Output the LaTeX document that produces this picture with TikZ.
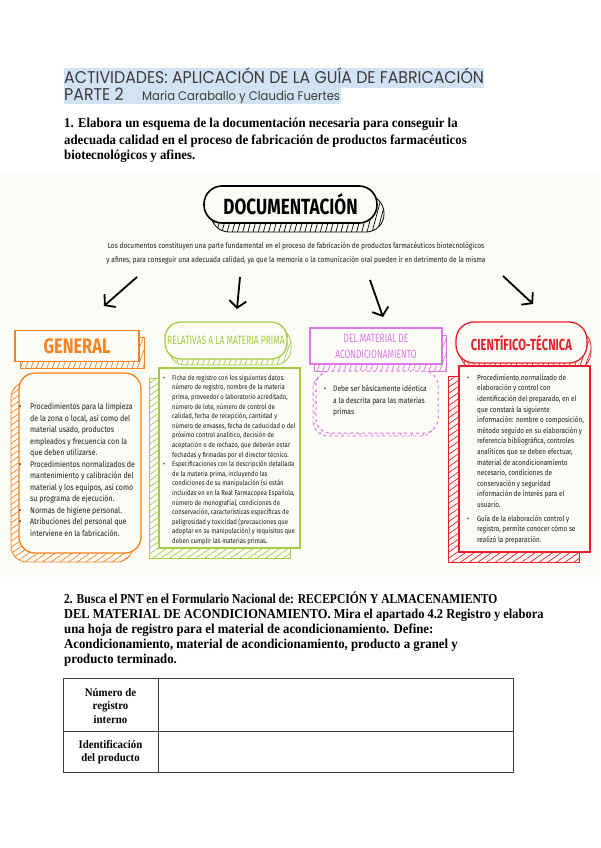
\documentclass[tikz,border=0pt]{standalone}
\usepackage{fontspec}
\usepackage{graphicx}
\setmainfont{Liberation Serif}
\newfontfamily\titlefont[FakeStretch=0.93]{Poppins}
\newfontfamily\qfont[FakeStretch=0.94]{Liberation Serif}
\newfontfamily\hdA[FakeStretch=0.78]{Fira Sans}
\newfontfamily\hdB[FakeStretch=0.70]{Fira Sans}
\newfontfamily\bodyfont[FakeStretch=0.85]{Fira Sans}
\usetikzlibrary{arrows.meta,patterns.meta,shadows}
\definecolor{hl}{HTML}{D3E3F3}
\definecolor{titlegray}{HTML}{3C3C3C}
\definecolor{bandbg}{HTML}{FCFBF6}
\definecolor{cOr}{HTML}{F7821E}
\definecolor{cGr}{HTML}{A3CC45}
\definecolor{cMg}{HTML}{DD77E8}
\definecolor{cRd}{HTML}{E81E2A}
\definecolor{ink}{HTML}{1C1C1C}
\newcommand{\bul}[1][11pt]{\makebox[#1][l]{\textbullet}}
\tikzset{
  hatched/.style n args={4}{general shadow={shadow xshift=#2, shadow yshift=#3, draw=#1, line width=0.8pt,
      pattern={Lines[angle=#4,distance=5pt,line width=0.7pt]}, pattern color=#1}},
  skbox/.style={draw=#1, line width=1.3pt, fill=bandbg, inner sep=0pt},
  hdtext/.style={text=#1, align=center, inner sep=0pt},
  bodytext/.style={anchor=north west, inner sep=0pt, text=ink},
  qline/.style={anchor=base west, inner sep=0pt, font=\qfont\bfseries\fontsize{13.6}{15}\selectfont, text=black},
  arr/.style={line width=1.8pt, -{Straight Barb[length=7pt,width=17pt]}},
}
\begin{document}
\begin{tikzpicture}[x=1pt,y=-1pt]
\useasboundingbox (0,0) rectangle (600,848);
\fill[white] (0,0) rectangle (600,848);
% title
\fill[hl] (64,68) rectangle (484,88);
\fill[hl] (64,88) rectangle (341,104);
\node[anchor=base west, inner sep=0, text=titlegray, font=\titlefont\fontsize{17}{17}\selectfont] (t1) at (64,84)
  {ACTIVIDADES: APLICACIÓN DE LA GUÍA DE FABRICACIÓN};
\node[anchor=base west, inner sep=0, text=titlegray, font=\titlefont\fontsize{17}{17}\selectfont] (t2) at (64,101)
  {PARTE 2};
\node[anchor=base west, inner sep=0, text=titlegray, font=\titlefont\fontsize{12.5}{12.5}\selectfont] (t3) at (142,101)
  {Maria Caraballo y Claudia Fuertes};
% question 1
\node[qline] (q1a) at (64,128) {1. Elabora un esquema de la documentación necesaria para conseguir la};
\node[qline] (q1b) at (64,144) {adecuada calidad en el proceso de fabricación de productos farmacéuticos};
\node[qline] (q1c) at (64,159) {biotecnológicos y afines.};
% band
\fill[bandbg] (0,174) rectangle (600,577);
% documentacion
\node[skbox=black, line width=1.6pt, rounded corners=18pt, minimum width=173pt, minimum height=37pt,
      hatched={black}{7pt}{-9pt}{75}] (doc) at (290.5,204.5) {};
\node[text=black, font=\hdA\bfseries\fontsize{22}{22}\selectfont] at (doc.center) {DOCUMENTACIÓN};
\node[text=ink, align=center, inner sep=0, font=\bodyfont\fontsize{7.75}{14}\selectfont] (par) at (296,253)
  {Los documentos constituyen una parte fundamental en el proceso de fabricación de productos farmacéuticos biotecnológicos\\
   y afines, para conseguir una adecuada calidad, ya que la memoria o la comunicación oral pueden ir en detrimento de la misma};
% headers
\node[skbox=cOr, minimum width=124pt, minimum height=31pt, hatched={cOr}{5pt}{-7pt}{70}] (gen) at (77,346) {};
\node[hdtext=cOr, font=\hdA\bfseries\fontsize{21}{21}\selectfont] at (gen.center) {GENERAL};
\node[skbox=cGr, rounded corners=16pt, minimum width=122pt, minimum height=37pt, hatched={cGr}{4pt}{-6pt}{70}] (rel) at (226,340.5) {};
\node[hdtext=cGr, font=\hdB\fontsize{12}{12}\selectfont] at (rel.center) {RELATIVAS A LA MATERIA PRIMA};
\node[skbox=cMg, minimum width=132pt, minimum height=36pt, hatched={cMg}{4pt}{-7pt}{70}] (acm) at (376,346) {};
\node[hdtext=cMg, font=\hdB\fontsize{12}{16}\selectfont] at (acm.center) {DEL MATERIAL DE\\ACONDICIONAMIENTO};
\node[skbox=cRd, rounded corners=18pt, minimum width=131pt, minimum height=41pt, hatched={cRd}{4pt}{-7pt}{70}] (cyt) at (521.5,342.5) {};
\node[hdtext=cRd, font=\hdB\bfseries\fontsize{16}{16}\selectfont] at (cyt.center) {CIENTÍFICO-TÉCNICA};
% arrows
\coordinate (a1s) at (137,277); \coordinate (a1e) at (104,306);
\coordinate (a2s) at (240,277); \coordinate (a2e) at (237,309);
\coordinate (a3s) at (370,280); \coordinate (a3e) at (383,317);
\coordinate (a4s) at (503,276); \coordinate (a4e) at (533,304);
\draw[arr] (a1s) -- (a1e);
\draw[arr] (a2s) -- (a2e);
\draw[arr] (a3s) -- (a3e);
\draw[arr] (a4s) -- (a4e);
% content boxes
\node[skbox=cOr, rounded corners=16pt, minimum width=122pt, minimum height=180pt, hatched={cOr}{-8pt}{-9pt}{35}] (bgen) at (80,463) {};
\node[skbox=cGr, minimum width=141pt, minimum height=180pt, hatched={cGr}{-10pt}{-10pt}{35}] (brel) at (229.5,458) {};
\node[skbox=cMg, line width=1pt, dashed, rounded corners=14pt, minimum width=122pt, minimum height=62pt, hatched={cMg}{-3pt}{-3pt}{60}] (bacm) at (377,402) {};
\node[skbox=cRd, minimum width=131pt, minimum height=186pt, hatched={cRd}{-11pt}{-10pt}{35}] (bcyt) at (524.5,459) {};
% texts
\node[bodytext, font=\bodyfont\fontsize{8.3}{11.5}\selectfont] (tgen) at (19,401.5) {%
\begin{tabular}{@{}l@{}l@{}}
\bul & Procedimientos para la limpieza\\
 & de la zona o local, así como del\\
 & material usado, productos\\
 & empleados y frecuencia con la\\
 & que deben utilizarse.\\
\bul & Procedimientos normalizados de\\
 & mantenimiento y calibración del\\
 & material y los equipos, así como\\
 & su programa de ejecución.\\
\bul & Normas de higiene personal.\\
\bul & Atribuciones del personal que\\
 & interviene en la fabricación.
\end{tabular}};
\node[bodytext, font=\bodyfont\fontsize{7.0}{9.6}\selectfont] (trel) at (163,373.3) {%
\begin{tabular}{@{}l@{}l@{}}
\bul[9pt] & Ficha de registro con los siguientes datos:\\
 & número de registro, nombre de la materia\\
 & prima, proveedor o laboratorio acreditado,\\
 & número de lote, número de control de\\
 & calidad, fecha de recepción, cantidad y\\
 & número de envases, fecha de caducidad o del\\
 & próximo control analítico, decisión de\\
 & aceptación o de rechazo, que deberán estar\\
 & fechadas y firmadas por el director técnico.\\
\bul[9pt] & Especificaciones con la descripción detallada\\
 & de la materia prima, incluyendo las\\
 & condiciones de su manipulación (si están\\
 & incluidas en en la Real Farmacopea Española,\\
 & número de monografía), condiciones de\\
 & conservación, características específicas de\\
 & peligrosidad y toxicidad (precauciones que\\
 & adoptar en su manipulación) y requisitos que\\
 & deben cumplir las materias primas.
\end{tabular}};
\node[bodytext, font=\bodyfont\fontsize{7.9}{11.5}\selectfont] (tacm) at (324,383.3) {%
\begin{tabular}{@{}l@{}l@{}}
\bul[9pt] & Debe ser básicamente idéntica\\
 & a la descrita para las materias\\
 & primas
\end{tabular}};
\node[bodytext, font=\bodyfont\fontsize{7.5}{10.6}\selectfont] (tcyt) at (467,372.6) {%
\begin{tabular}{@{}l@{}l@{}}
\bul[10pt] & Procedimiento normalizado de\\
 & elaboración y control con\\
 & identificación del preparado, en el\\
 & que constará la siguiente\\
 & información: nombre o composición,\\
 & método seguido en su elaboración y\\
 & referencia bibliográfica, controles\\
 & analíticos que se deben efectuar,\\
 & material de acondicionamiento\\
 & necesario, condiciones de\\
 & conservación y seguridad\\
 & información de interés para el\\
 & usuario.\\[3pt]
\bul[10pt] & Guía de la elaboración control y\\
 & registro, permite conocer cómo se\\
 & realizó la preparación.
\end{tabular}};
% question 2
\node[qline] (q2a) at (64,603) {\scalebox{0.904}[1]{2. Busca el PNT en el Formulario Nacional de: RECEPCIÓN Y ALMACENAMIENTO}};
\node[qline] (q2b) at (64,618) {\scalebox{0.974}[1]{DEL MATERIAL DE ACONDICIONAMIENTO. Mira el apartado 4.2 Registro y elabora}};
\node[qline] (q2c) at (64,633) {una hoja de registro para el material de acondicionamiento. Define:};
\node[qline] (q2d) at (64,648) {Acondicionamiento, material de acondicionamiento, producto a granel y};
\node[qline] (q2e) at (64,663) {producto terminado.};
% table
\draw[line width=1pt, titlegray] (63,678) rectangle (513,772);
\draw[line width=1pt, titlegray] (158,678) -- (158,772);
\draw[line width=1pt, titlegray] (63,731.5) -- (513,731.5);
\node[align=center, inner sep=0, font=\qfont\bfseries\fontsize{11.5}{13.5}\selectfont] (c1) at (110.5,706) {Número de\\registro\\interno};
\node[align=center, inner sep=0, font=\qfont\bfseries\fontsize{11.5}{13.5}\selectfont] (c2) at (110.5,752) {Identificación\\del producto};
\end{tikzpicture}
\end{document}
